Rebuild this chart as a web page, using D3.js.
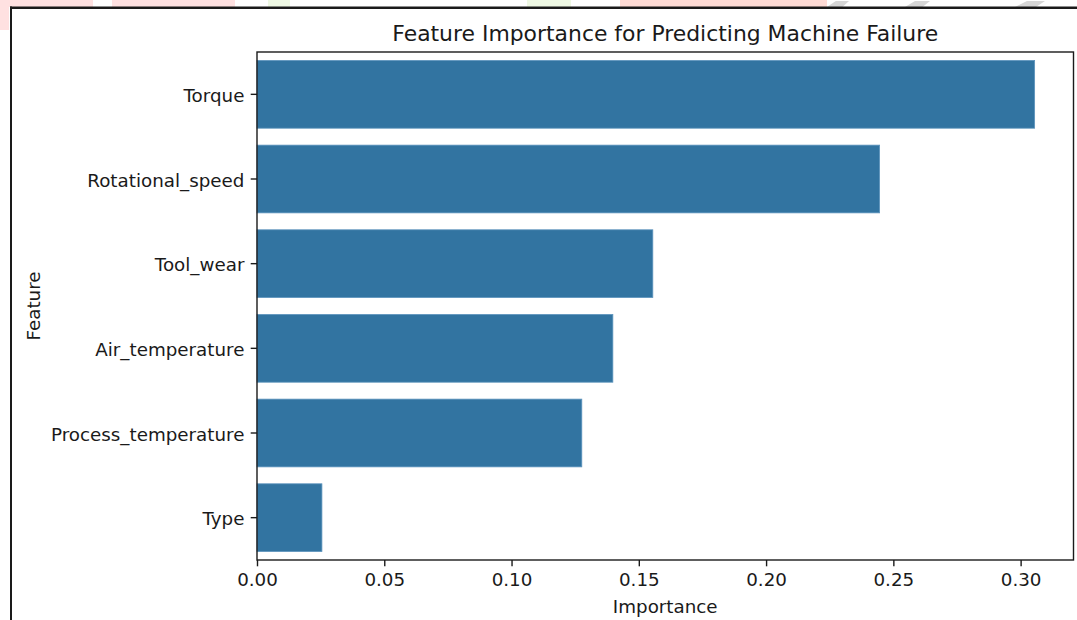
<!DOCTYPE html>
<html>
<head>
<meta charset="utf-8">
<script src="https://cdn.jsdelivr.net/npm/d3@7"></script>
<style>
  html, body { margin: 0; padding: 0; background: #ffffff; }
  svg { display: block; }
  text { font-family: "DejaVu Sans", sans-serif; fill: #1a1a1a; }
</style>
</head>
<body>
<svg id="chart" width="1077" height="620"></svg>
<script>
const features = ["Torque", "Rotational_speed", "Tool_wear", "Air_temperature", "Process_temperature", "Type"];
const importance = [0.3055, 0.2446, 0.1555, 0.1398, 0.1276, 0.0255];
const xTicks = [0.00, 0.05, 0.10, 0.15, 0.20, 0.25, 0.30];
const titleText = "Feature Importance for Predicting Machine Failure";
const xLabel = "Importance";
const yLabel = "Feature";

const svg = d3.select("#chart");
const W = 1077, H = 620;
const plot = { left: 257, right: 1073.5, top: 52, bottom: 560 };

// background watermark fragments (from the screenshot's surroundings)
const bg = svg.append("g");
const frags = [
  { x: 0, w: 93, c: "#ffe1e1" }, { x: 112, w: 123, c: "#ffe1e1" },
  { x: 268, w: 22, c: "#eef8e3" }, { x: 527, w: 44, c: "#eef8e3" },
  { x: 620, w: 207, c: "#ffdbd5" }
];
frags.forEach(f => bg.append("rect").attr("x", f.x).attr("y", 0).attr("width", f.w).attr("height", 7).attr("fill", f.c));
bg.append("rect").attr("x", 0).attr("y", 0).attr("width", 9).attr("height", 30).attr("fill", "#ffe1e1");
[[827, 22], [905, 25], [1015, 30]].forEach(g => bg.append("path")
  .attr("d", `M${g[0]},7 L${g[0] + g[1] * 0.4},1 L${g[0] + g[1]},1 L${g[0] + g[1] * 0.7},7 Z`)
  .attr("fill", "#d6d6d6"));
// screenshot frame lines
bg.append("rect").attr("x", 10).attr("y", 6.5).attr("width", W - 10).attr("height", 2.5).attr("fill", "#1a1a1a");
bg.append("rect").attr("x", 10).attr("y", 6.5).attr("width", 2).attr("height", H - 6.5).attr("fill", "#1a1a1a");

const x = d3.scaleLinear()
  .domain([0, d3.max(importance) * 1.05])
  .range([plot.left, plot.right]);

const y = d3.scaleBand()
  .domain(features)
  .range([plot.top, plot.bottom])
  .paddingInner(0.2)
  .paddingOuter(0.1);

const barColor = "#3274a1";
svg.append("g").selectAll("rect")
  .data(features)
  .join("rect")
  .attr("x", x(0))
  .attr("y", d => y(d))
  .attr("width", (d, i) => x(importance[i]) - x(0))
  .attr("height", y.bandwidth())
  .attr("fill", barColor)
  .attr("stroke", "#5d94bd")
  .attr("stroke-width", 0.8);

const tickLen = 6.3, tickPad = 6.3;
const fs = 18.3;

// x axis
const xAxis = d3.axisBottom(x)
  .tickValues(xTicks)
  .tickFormat(d3.format(".2f"))
  .tickSize(tickLen)
  .tickPadding(tickPad);
const gx = svg.append("g").attr("transform", `translate(0,${plot.bottom})`).call(xAxis);
gx.select(".domain").remove();
gx.selectAll(".tick line").attr("stroke", "#1a1a1a").attr("stroke-width", 1.4);
gx.selectAll(".tick text").attr("font-size", fs).attr("font-family", "DejaVu Sans").attr("fill", "#1a1a1a");

// y axis
const yAxis = d3.axisLeft(y).tickSize(tickLen).tickPadding(tickPad);
const gy = svg.append("g").attr("transform", `translate(${plot.left},0)`).call(yAxis);
gy.select(".domain").remove();
gy.selectAll(".tick line").attr("stroke", "#1a1a1a").attr("stroke-width", 1.4);
gy.selectAll(".tick text").attr("font-size", fs).attr("font-family", "DejaVu Sans").attr("fill", "#1a1a1a").attr("dy", "0.42em");

// spines
svg.append("rect")
  .attr("x", plot.left).attr("y", plot.top)
  .attr("width", plot.right - plot.left).attr("height", plot.bottom - plot.top)
  .attr("fill", "none").attr("stroke", "#1a1a1a").attr("stroke-width", 1.4);

// title & labels
svg.append("text")
  .attr("x", (plot.left + plot.right) / 2).attr("y", 41)
  .attr("text-anchor", "middle").attr("font-size", 21.9)
  .text(titleText);

svg.append("text")
  .attr("x", (plot.left + plot.right) / 2).attr("y", 613)
  .attr("text-anchor", "middle").attr("font-size", fs)
  .text(xLabel);

svg.append("text")
  .attr("transform", `translate(40,${(plot.top + plot.bottom) / 2}) rotate(-90)`)
  .attr("text-anchor", "middle").attr("font-size", fs)
  .text(yLabel);
</script>
</body>
</html>
